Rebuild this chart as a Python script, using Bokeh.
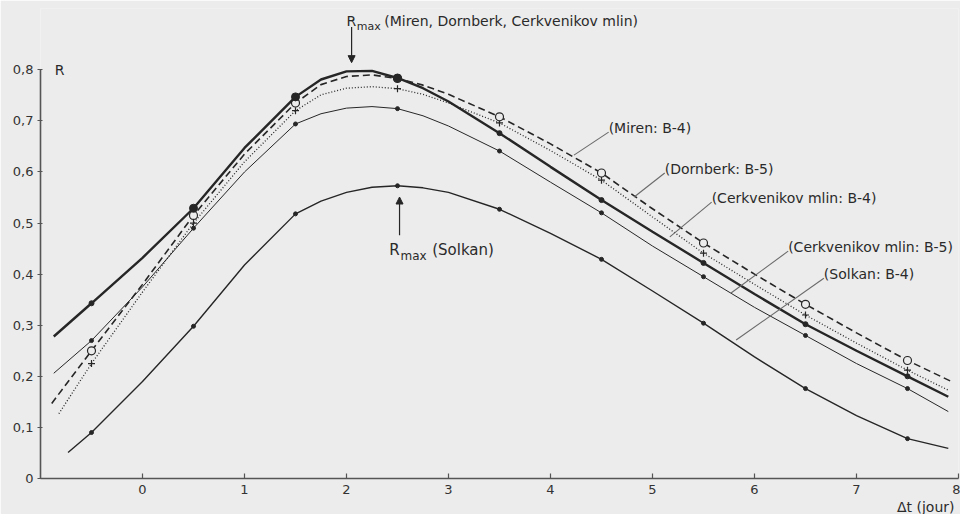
from bokeh.plotting import figure
from bokeh.models import Range1d, FixedTicker, Label, Arrow, NormalHead, Title
from bokeh.embed import file_html
from bokeh.resources import INLINE

# --- data -------------------------------------------------------------
x_cerk_b4 = [-0.87, -0.5, 0, 0.5, 1.0, 1.5, 1.75, 2.0, 2.25, 2.5, 2.75, 3.0, 3.5, 4.0, 4.5, 5.0, 5.5, 6.0, 6.5, 7.0, 7.5, 7.9]
r_cerk_b4 = [0.278, 0.343, 0.432, 0.529, 0.647, 0.747, 0.781, 0.797, 0.798, 0.784, 0.764, 0.738, 0.676, 0.610, 0.545, 0.483, 0.422, 0.361, 0.302, 0.250, 0.200, 0.160]

x_miren_b4 = [-0.89, -0.5, 0, 0.5, 1.0, 1.5, 1.75, 2.0, 2.25, 2.5, 2.75, 3.0, 3.5, 4.0, 4.5, 5.0, 5.5, 6.0, 6.5, 7.0, 7.5, 7.95]
r_miren_b4 = [0.147, 0.250, 0.380, 0.515, 0.635, 0.735, 0.771, 0.787, 0.790, 0.783, 0.770, 0.752, 0.708, 0.655, 0.598, 0.528, 0.461, 0.400, 0.341, 0.285, 0.231, 0.188]

x_dorn_b5 = [-0.82, -0.5, 0, 0.5, 1.0, 1.5, 1.75, 2.0, 2.25, 2.5, 2.75, 3.0, 3.5, 4.0, 4.5, 5.0, 5.5, 6.0, 6.5, 7.0, 7.5, 7.9]
r_dorn_b5 = [0.127, 0.225, 0.365, 0.500, 0.620, 0.720, 0.751, 0.764, 0.767, 0.763, 0.752, 0.735, 0.696, 0.642, 0.584, 0.512, 0.441, 0.380, 0.320, 0.265, 0.212, 0.173]

x_cerk_b5 = [-0.87, -0.5, 0, 0.5, 1.0, 1.5, 1.75, 2.0, 2.25, 2.5, 2.75, 3.0, 3.5, 4.0, 4.5, 5.0, 5.5, 6.0, 6.5, 7.0, 7.5, 7.9]
r_cerk_b5 = [0.206, 0.270, 0.375, 0.490, 0.600, 0.694, 0.714, 0.725, 0.728, 0.724, 0.710, 0.690, 0.641, 0.580, 0.520, 0.455, 0.395, 0.335, 0.280, 0.225, 0.176, 0.131]

x_solkan_b4 = [-0.73, -0.5, 0, 0.5, 1.0, 1.5, 1.75, 2.0, 2.25, 2.5, 2.75, 3.0, 3.5, 4.0, 4.5, 5.0, 5.5, 6.0, 6.5, 7.0, 7.5, 7.9]
r_solkan_b4 = [0.051, 0.090, 0.190, 0.298, 0.418, 0.518, 0.543, 0.560, 0.570, 0.573, 0.569, 0.560, 0.527, 0.480, 0.429, 0.367, 0.304, 0.238, 0.176, 0.123, 0.078, 0.059]

x_ticks = [0, 1, 2, 3, 4, 5, 6, 7, 8]
y_ticks = [0, 0.1, 0.2, 0.3, 0.4, 0.5, 0.6, 0.7, 0.8]
y_tick_labels = ["0", "0,1", "0,2", "0,3", "0,4", "0,5", "0,6", "0,7", "0,8"]

# curve labels: text, label x, label y, pointer end x, pointer end y
lab_text = ["(Miren: B-4)", "(Dornberk: B-5)", "(Cerkvenikov mlin: B-4)", "(Cerkvenikov mlin: B-5)", "(Solkan: B-4)"]
lab_x = [4.57, 5.12, 5.58, 6.33, 6.68]
lab_y = [0.686, 0.606, 0.549, 0.453, 0.400]
ptr_x = [4.23, 4.82, 5.17, 5.77, 5.82]
ptr_y = [0.633, 0.551, 0.473, 0.363, 0.271]

rmax_top_x = 2.05
rmax_top_y = (0.884, 0.814)
rmax_sol_x = 2.52
rmax_sol_y = (0.476, 0.551)

INK = "#262626"
BG = "#ececec"
FONT = "DejaVu Sans"


def half_pts(xs, ys):
    px, py = [], []
    for a, b in zip(xs, ys):
        if abs(a * 2 - round(a * 2)) < 1e-9 and int(round(a * 2)) % 2 != 0:
            px.append(a)
            py.append(b)
    return px, py


p = figure(width=960, height=514, frame_width=918, frame_height=470,
           x_range=Range1d(-1, 8), y_range=Range1d(0, 0.92),
           output_backend="svg", toolbar_location=None,
           min_border_left=40, min_border_right=2, min_border_top=8, min_border_bottom=0,
           background_fill_color=BG, border_fill_color=BG, outline_line_color=None)
p.grid.visible = False

# axes
for ax in (p.xaxis[0], p.yaxis[0]):
    ax.axis_line_color = "#555555"
    ax.axis_line_width = 1.6
    ax.major_tick_line_color = "#555555"
    ax.major_tick_line_width = 1.2
    ax.minor_tick_line_color = None
    ax.major_label_text_font = FONT
    ax.major_label_text_font_size = "13px"
    ax.major_label_text_color = "#333333"

p.xaxis.ticker = FixedTicker(ticks=x_ticks)
p.xaxis.bounds = (-1, 8)
p.xaxis.major_tick_in = 5
p.xaxis.major_tick_out = 0
p.xaxis.major_label_standoff = 6

p.yaxis.ticker = FixedTicker(ticks=y_ticks)
p.yaxis.bounds = (0, 0.8)
p.yaxis.major_tick_in = 2
p.yaxis.major_tick_out = 3
p.yaxis.major_label_standoff = 4
p.yaxis.major_label_overrides = {t: s for t, s in zip(y_ticks, y_tick_labels)}

# x axis title, right aligned below the tick labels
p.add_layout(Title(text="Δt (jour)", align="right", text_font=FONT, text_font_size="14px",
                   text_font_style="normal", text_color="#2a2a2a", standoff=0, offset=4), "below")

# curves
p.line(x_solkan_b4, r_solkan_b4, line_color=INK, line_width=1.4)
sx, sy = half_pts(x_solkan_b4, r_solkan_b4)
p.scatter(sx, sy, marker="circle", size=4, fill_color=INK, line_color=INK)

p.line(x_cerk_b5, r_cerk_b5, line_color=INK, line_width=1.0)
sx, sy = half_pts(x_cerk_b5, r_cerk_b5)
p.scatter(sx, sy, marker="circle", size=4, fill_color=INK, line_color=INK)

p.line(x_dorn_b5, r_dorn_b5, line_color=INK, line_width=1.3, line_dash="1 2")
sx, sy = half_pts(x_dorn_b5, r_dorn_b5)
p.scatter(sx, sy, marker="cross", size=7, line_color=INK, line_width=1.2)

p.line(x_miren_b4, r_miren_b4, line_color=INK, line_width=1.6, line_dash="7 4")
sx, sy = half_pts(x_miren_b4, r_miren_b4)
p.scatter(sx, sy, marker="circle", size=8, fill_color=BG, line_color=INK, line_width=1.2)

p.line(x_cerk_b4, r_cerk_b4, line_color=INK, line_width=2.4)
sx, sy = half_pts(x_cerk_b4, r_cerk_b4)
sizes = [8 if 0 < a < 3 else 5 for a in sx]
p.scatter(sx, sy, marker="circle", size=sizes, fill_color=INK, line_color=INK)

# label pointers and texts
p.segment(x0=lab_x, y0=[y - 0.008 for y in lab_y], x1=ptr_x, y1=ptr_y, line_color="#6a6a6a", line_width=1.1)
for t, lx, ly in zip(lab_text, lab_x, lab_y):
    p.add_layout(Label(x=lx, y=ly, text=t, text_font=FONT, text_font_size="14px",
                       text_color="#2a2a2a", text_baseline="middle", text_align="left"))

# R max arrows and texts
p.add_layout(Arrow(x_start=rmax_top_x, y_start=rmax_top_y[0], x_end=rmax_top_x, y_end=rmax_top_y[1],
                   line_color=INK, line_width=1.2,
                   end=NormalHead(size=7, fill_color=INK, line_color=INK)))
p.add_layout(Arrow(x_start=rmax_sol_x, y_start=rmax_sol_y[0], x_end=rmax_sol_x, y_end=rmax_sol_y[1],
                   line_color=INK, line_width=1.2,
                   end=NormalHead(size=7, fill_color=INK, line_color=INK)))

p.add_layout(Label(x=2.0, y=0.895, text="R", text_font=FONT, text_font_size="14px",
                   text_color="#2a2a2a", text_baseline="middle"))
p.add_layout(Label(x=2.1, y=0.885, text="max", text_font=FONT, text_font_size="11px",
                   text_color="#2a2a2a", text_baseline="middle"))
p.add_layout(Label(x=2.37, y=0.895, text="(Miren, Dornberk, Cerkvenikov mlin)", text_font=FONT,
                   text_font_size="14px", text_color="#2a2a2a", text_baseline="middle"))

p.add_layout(Label(x=2.42, y=0.447, text="R", text_font=FONT, text_font_size="15px",
                   text_color="#2a2a2a", text_baseline="middle"))
p.add_layout(Label(x=2.53, y=0.436, text="max", text_font=FONT, text_font_size="12px",
                   text_color="#2a2a2a", text_baseline="middle"))
p.add_layout(Label(x=2.84, y=0.447, text="(Solkan)", text_font=FONT, text_font_size="15px",
                   text_color="#2a2a2a", text_baseline="middle"))

# y axis title
p.add_layout(Label(x=-0.86, y=0.8, text="R", text_font=FONT, text_font_size="14px",
                   text_color="#2a2a2a", text_baseline="middle"))

open("out.html", "w").write(file_html(p, INLINE))
